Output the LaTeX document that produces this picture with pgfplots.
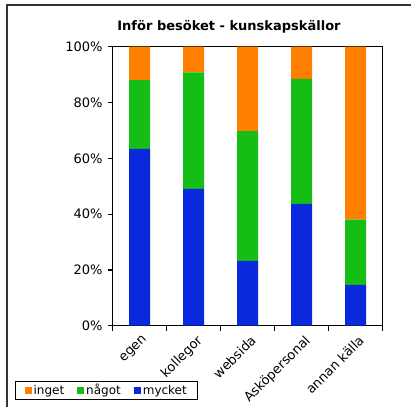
\documentclass[border=0pt]{standalone}
\usepackage{pgfplots}
\pgfplotsset{compat=1.18}
\usepackage{fontspec}
\setmainfont{DejaVu Sans}
\definecolor{cinget}{HTML}{FF7F00}
\definecolor{cnagot}{HTML}{14BE14}
\definecolor{cmycket}{HTML}{0A28DC}
\begin{document}
\begin{tikzpicture}[x=1pt,y=1pt]
\useasboundingbox (0,0) rectangle (411,407);
% outer frame (only top and left edges visible)
\draw[line width=1.5pt,black!80] (7,0) -- (7,402) -- (411,402);
\node[font=\fontsize{13}{15}\selectfont\bfseries] at (229,380.5) {Inför besöket - kunskapskällor};
\begin{axis}[
    at={(112.7pt,81.3pt)}, anchor=south west,
    scale only axis,
    width=270pt, height=279pt,
    ybar stacked,
    bar width=21pt,
    xmin=-0.5, xmax=4.5,
    ymin=0, ymax=100,
    xtick={0,1,2,3,4},
    xticklabels={egen, kollegor, websida, Asköpersonal, annan källa},
    major x tick style={draw=none},
    minor xtick={-0.5,0.5,1.5,2.5,3.5,4.5},
    ytick={0,20,40,60,80,100},
    xtick pos=bottom, ytick pos=left,
    yticklabel={\pgfmathprintnumber{\tick}\%},
    /pgf/number format/assume math mode=true,
    tick align=outside,
    major tick length=5pt,
    minor tick length=5pt,
    tick style={black, line width=1.2pt},
    axis line style={black, line width=1.5pt},
    tick label style={font=\fontsize{13}{15}\selectfont},
    xticklabel style={rotate=45, anchor=north east, inner sep=1pt, xshift=0pt, yshift=-3pt},
    yticklabel style={inner sep=2pt, xshift=-3pt},
    legend style={at={(-0.362,-0.266)}, anchor=south west, legend columns=3,
        draw=black, line width=1.2pt, font=\fontsize{12}{14}\selectfont,
        inner xsep=9pt, inner ysep=1pt,
        /tikz/every even column/.append style={column sep=11pt}},
    legend image code/.code={\fill[#1,draw=none] (0pt,-3.5pt) rectangle (7pt,3.5pt);},
    reverse legend,
]
\addplot[fill=cmycket, draw=none] coordinates {(0,63.4) (1,49.0) (2,23.2) (3,43.7) (4,14.6)};
\addplot[fill=cnagot, draw=none] coordinates {(0,24.6) (1,41.8) (2,46.5) (3,44.8) (4,23.4)};
\addplot[fill=cinget, draw=none] coordinates {(0,12.0) (1,9.2) (2,30.3) (3,11.5) (4,62.0)};
\legend{mycket, något, inget}
\end{axis}
\end{tikzpicture}
\end{document}
